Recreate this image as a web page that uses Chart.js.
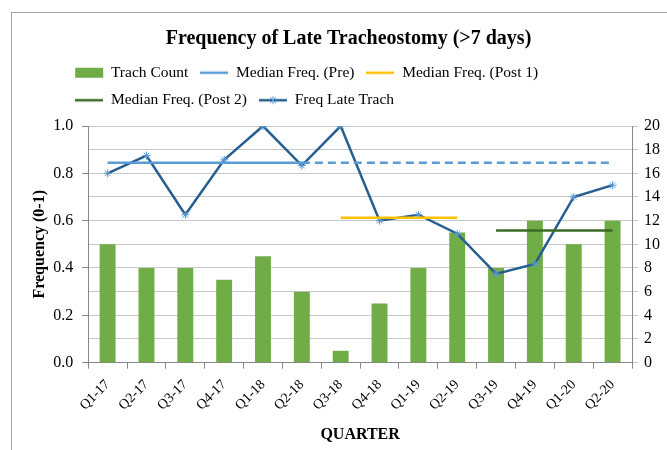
<!DOCTYPE html>
<html>
<head>
<meta charset="utf-8">
<script src="https://cdn.jsdelivr.net/npm/chart.js@4.4.1/dist/chart.umd.min.js"></script>
<style>
  body { margin: 0; background: #fff; }
  #wrap { position: relative; width: 667px; height: 450px; }
  #frame { position: absolute; left: 11px; top: 12px; right: 0; bottom: 0;
           border-top: 1px solid #a6a6a6; border-left: 1px solid #a6a6a6; pointer-events: none; }
</style>
</head>
<body>
<div id="wrap">
  <canvas id="myChart" width="667" height="450"></canvas>
  <div id="frame"></div>
</div>
<script>
const quarters = ["Q1-17", "Q2-17", "Q3-17", "Q4-17", "Q1-18", "Q2-18", "Q3-18",
                  "Q4-18", "Q1-19", "Q2-19", "Q3-19", "Q4-19", "Q1-20", "Q2-20"];
const trachCount = [10, 8, 8, 7, 9, 6, 1, 5, 8, 11, 8, 12, 10, 12];
const freqLate = [0.80, 0.875, 0.625, 0.857, 1.0, 0.833, 1.0, 0.60, 0.625, 0.545, 0.375, 0.417, 0.70, 0.75];
const medianPre = [0.845, 0.845, 0.845, 0.845, 0.845, 0.845, 0.845, 0.845, 0.845, 0.845, 0.845, 0.845, 0.845, 0.845];
const medianPost1 = [null, null, null, null, null, null, 0.6125, 0.6125, 0.6125, 0.6125, null, null, null, null];
const medianPost2 = [null, null, null, null, null, null, null, null, null, null, 0.558, 0.558, 0.558, 0.558];
const leftTicks = [0, 0.2, 0.4, 0.6, 0.8, 1.0];
const rightTicks = [0, 2, 4, 6, 8, 10, 12, 14, 16, 18, 20];

const serif = "'Liberation Serif', 'Times New Roman', serif";

// little legend markers (line, line with star)
function lineMark(color, star) {
  const c = document.createElement("canvas");
  c.width = 28; c.height = 12;
  const g = c.getContext("2d");
  g.strokeStyle = color; g.lineWidth = 2.5;
  g.beginPath(); g.moveTo(0, 6); g.lineTo(28, 6); g.stroke();
  if (star) {
    g.strokeStyle = "#5b9bd5"; g.lineWidth = 1;
    g.beginPath();
    g.moveTo(11, 3); g.lineTo(17, 9); g.moveTo(17, 3); g.lineTo(11, 9);
    g.moveTo(14, 2); g.lineTo(14, 10);
    g.stroke();
  }
  return c;
}

// a bit more room under the legend, and legend rows start left of the plot
const legendTweak = {
  id: "legendTweak",
  beforeLayout(chart) {
    const lg = chart.legend;
    if (lg && !lg._tweaked) {
      const fit = lg.fit;
      lg.fit = function () { fit.call(this); this.height += 8; };
      lg._tweaked = true;
    }
  },
  beforeDraw(chart) {
    chart.legend.left = chart.chartArea.left - 25;
  }
};

const ctx = document.getElementById("myChart");
new Chart(ctx, {
  type: "bar",
  data: {
    labels: quarters,
    datasets: [
      {
        label: "Trach Count",
        data: trachCount,
        yAxisID: "y1",
        backgroundColor: "#70ad47",
        barPercentage: 0.41,
        categoryPercentage: 1,
        order: 1
      },
      {
        type: "line",
        label: "Median Freq. (Pre)",
        data: medianPre,
        yAxisID: "y",
        borderColor: "#5b9bd5",
        borderWidth: 2.5,
        pointRadius: 0,
        segment: {
          borderDash: c => (c.p0DataIndex >= 5 ? [8, 5] : undefined)
        },
        order: 0
      },
      {
        type: "line",
        label: "Median Freq. (Post 1)",
        data: medianPost1,
        yAxisID: "y",
        borderColor: "#ffc000",
        borderWidth: 2.5,
        pointRadius: 0,
        order: 0
      },
      {
        type: "line",
        label: "Median Freq. (Post 2)",
        data: medianPost2,
        yAxisID: "y",
        borderColor: "#3b6b22",
        borderWidth: 2.5,
        pointRadius: 0,
        order: 0
      },
      {
        type: "line",
        label: "Freq Late Trach",
        data: freqLate,
        yAxisID: "y",
        borderColor: "#255e91",
        borderWidth: 2.5,
        pointStyle: "star",
        pointRadius: 4,
        pointBorderColor: "#5b9bd5",
        pointBorderWidth: 1,
        tension: 0,
        order: 0
      }
    ]
  },
  plugins: [legendTweak],
  options: {
    responsive: false,
    animation: false,
    layout: { padding: { left: 30, right: 0, top: 14, bottom: 6 } },
    plugins: {
      tooltip: { enabled: false },
      title: {
        display: true,
        text: "Frequency of Late Tracheostomy (>7 days)",
        color: "#000",
        font: { family: serif, size: 20, weight: "bold" },
        padding: { top: 13, bottom: 2 }
      },
      legend: {
        position: "top",
        align: "start",
        fullSize: false,
        labels: {
          color: "#000",
          font: { family: serif, size: 15.5 },
          usePointStyle: true,
          pointStyleWidth: 28,
          boxHeight: 10,
          padding: 12,
          sort: (a, b) => a.datasetIndex - b.datasetIndex,
          generateLabels: chart => chart.data.datasets.map((ds, i) => ({
            text: ds.label,
            datasetIndex: i,
            fillStyle: ds.type === "line" ? "transparent" : ds.backgroundColor,
            strokeStyle: ds.type === "line" ? ds.borderColor : ds.backgroundColor,
            lineWidth: 0,
            fontColor: "#000",
            pointStyle: ds.type === "line" ? lineMark(ds.borderColor, i === 4) : "rect",
            hidden: false
          }))
        }
      }
    },
    scales: {
      x: {
        offset: true,
        grid: { offset: true, drawOnChartArea: false, drawTicks: true, tickLength: 6, color: "#868686" },
        border: { color: "#868686" },
        ticks: {
          color: "#000",
          font: { family: serif, size: 14 },
          minRotation: 45,
          maxRotation: 45,
          autoSkip: false,
          padding: 8
        },
        title: {
          display: true,
          text: "QUARTER",
          color: "#000",
          font: { family: serif, size: 16, weight: "bold" },
          padding: { top: 3, bottom: 0 }
        }
      },
      y: {
        position: "left",
        min: 0,
        max: 1,
        afterBuildTicks: axis => { axis.ticks = leftTicks.map(v => ({ value: v })); },
        grid: { drawOnChartArea: false, tickLength: 6, color: "#868686" },
        border: { color: "#868686" },
        ticks: {
          color: "#000",
          font: { family: serif, size: 16 },
          callback: v => v.toFixed(1),
          padding: 9
        },
        title: {
          display: true,
          text: "Frequency (0-1)",
          color: "#000",
          font: { family: serif, size: 16, weight: "bold" },
          padding: { top: 0, bottom: -5 }
        }
      },
      y1: {
        position: "right",
        min: 0,
        max: 20,
        afterBuildTicks: axis => { axis.ticks = rightTicks.map(v => ({ value: v })); },
        afterFit: axis => { axis.width = 35; },
        grid: { drawOnChartArea: true, tickLength: 6, color: "#c8c8c8" },
        border: { color: "#868686" },
        ticks: {
          color: "#000",
          font: { family: serif, size: 16 },
          padding: 6
        }
      }
    }
  }
});
</script>
</body>
</html>
